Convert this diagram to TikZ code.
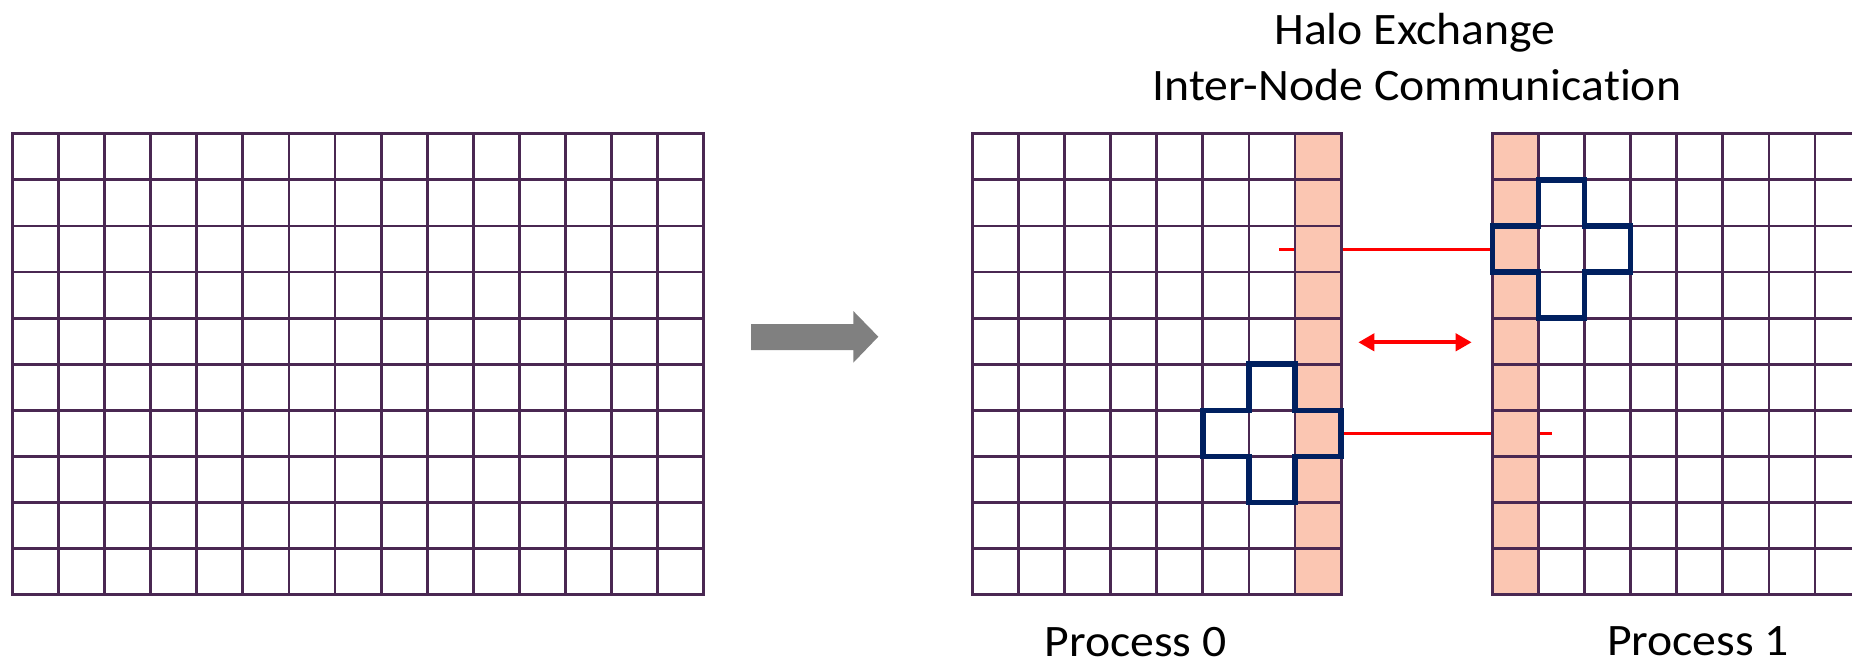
\documentclass[tikz,border=0pt]{standalone}
\usepackage{fontspec}
\setmainfont[FakeStretch=1.06, Ligatures=NoCommon]{Carlito}
\usetikzlibrary{arrows.meta}

\definecolor{gridpurple}{RGB}{74,40,82}
\definecolor{halofill}{RGB}{251,198,178}
\definecolor{stencilblue}{RGB}{0,32,96}
\definecolor{flowgray}{RGB}{128,128,128}

\tikzset{
  gridline/.style={draw=gridpurple, line width=2.8pt, line cap=rect},
  halocol/.style={fill=halofill},
  stencil/.style={draw=stencilblue, line width=5.5pt, line join=miter},
  msgline/.style={draw=red, line width=3pt},
  exchange/.style={draw=red, line width=4pt,
    {Triangle[length=16pt,width=17pt]}-{Triangle[length=16pt,width=17pt]}},
  label/.style={font=\fontsize{45}{52}\selectfont, inner sep=0pt, anchor=base},
}

% five-point stencil outline around cell (#3,#4) of a grid with origin (#1,#2)
\newcommand\haloplus[4]{%
  \draw[stencil]
    ({#1+(#3)*46.1},{#2+(#4-1)*46.1}) -- ({#1+(#3+1)*46.1},{#2+(#4-1)*46.1})
    -- ({#1+(#3+1)*46.1},{#2+(#4)*46.1}) -- ({#1+(#3+2)*46.1},{#2+(#4)*46.1})
    -- ({#1+(#3+2)*46.1},{#2+(#4+1)*46.1}) -- ({#1+(#3+1)*46.1},{#2+(#4+1)*46.1})
    -- ({#1+(#3+1)*46.1},{#2+(#4+2)*46.1}) -- ({#1+(#3)*46.1},{#2+(#4+2)*46.1})
    -- ({#1+(#3)*46.1},{#2+(#4+1)*46.1}) -- ({#1+(#3-1)*46.1},{#2+(#4+1)*46.1})
    -- ({#1+(#3-1)*46.1},{#2+(#4)*46.1}) -- ({#1+(#3)*46.1},{#2+(#4)*46.1})
    -- cycle;}

\begin{document}
\begin{tikzpicture}[x=1pt, y=-1pt]
  \useasboundingbox (0,0) rectangle (1852,664);
  \clip (0,0) rectangle (1852,664);

  % ---- full domain: 15 x 10 cells ----
  \foreach \i in {0,...,15}
    \draw[gridline] ({12.3+\i*46.1},133.7) -- ({12.3+\i*46.1},{133.7+10*46.1});
  \foreach \j in {0,...,10}
    \draw[gridline] (12.3,{133.7+\j*46.1}) -- ({12.3+15*46.1},{133.7+\j*46.1});

  % ---- decomposition arrow ----
  \coordinate (flowtail) at (751,336.7);
  \coordinate (flowtip) at (878.3,336.7);
  \fill[flowgray] (751,324) -- (853.3,324) -- (853.3,311) -- (flowtip)
    -- (853.3,362.7) -- (853.3,350) -- (751,350) -- cycle;

  % ---- messages between the subdomains ----
  \coordinate (sendA) at (1279.3,249.3);
  \coordinate (recvA) at (1490,249.3);
  \coordinate (sendB) at (1342,433);
  \coordinate (recvB) at (1552.3,433);
  \draw[msgline] (sendA) -- (recvA);
  \draw[msgline] (sendB) -- (recvB);

  % ---- halo columns ----
  \fill[halocol] ({972.3+7*46.1},133.7) rectangle ({972.3+8*46.1},{133.7+10*46.1});
  \fill[halocol] (1492.3,133.7) rectangle ({1492.3+46.1},{133.7+10*46.1});

  % ---- process 0 subdomain: 8 x 10 cells ----
  \foreach \i in {0,...,8}
    \draw[gridline] ({972.3+\i*46.1},133.7) -- ({972.3+\i*46.1},{133.7+10*46.1});
  \foreach \j in {0,...,10}
    \draw[gridline] (972.3,{133.7+\j*46.1}) -- ({972.3+8*46.1},{133.7+\j*46.1});

  % ---- process 1 subdomain (continues past the right edge) ----
  \foreach \i in {0,...,8}
    \draw[gridline] ({1492.3+\i*46.1},133.7) -- ({1492.3+\i*46.1},{133.7+10*46.1});
  \foreach \j in {0,...,10}
    \draw[gridline] (1492.3,{133.7+\j*46.1}) -- (1880,{133.7+\j*46.1});

  % ---- stencils ----
  \haloplus{972.3}{133.7}{6}{6}
  \haloplus{1492.3}{133.7}{1}{2}

  % ---- exchange arrow ----
  \coordinate (xleft) at (1358.3,342.3);
  \coordinate (xright) at (1471.7,342.3);
  \draw[exchange] (xleft) -- (xright);

  % ---- labels ----
  \node[label] (title) at (1415,44) {Halo Exchange};
  \node[label] (subtitle) at (1417,100) {Inter-Node Communication};
  \node[label] (proc0) at (1135.5,656.5) {Process 0};
  \node[label] (proc1) at (1698,655.5) {Process 1};
\end{tikzpicture}
\end{document}
